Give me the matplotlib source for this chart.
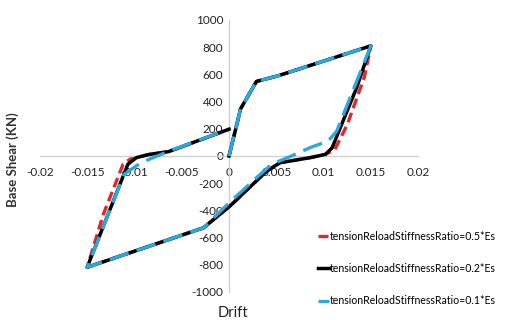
import numpy as np
import matplotlib.pyplot as plt
from matplotlib.ticker import FuncFormatter

plt.rcParams['font.family'] = ['Lato', 'DejaVu Sans']

# drift / base shear
drift_05 = [0.0, 0.001, 0.0012, 0.0029, 0.0052, 0.015, 0.0143, 0.0125, 0.0112, 0.0102,
            0.0086, 0.0054, 0.004, 0.0001, -0.0027, -0.015, -0.0133, -0.0112, -0.0104,
            -0.0098, -0.0084, -0.0064, 0.0]
shear_05 = [0, 282, 344, 548, 590, 810, 577, 230, 49, 12,
            -12, -49, -110, -368, -528, -818, -430, -60, -20,
            -12, 12, 32, 197]

drift_02 = [0.0, 0.001, 0.0012, 0.0029, 0.0052, 0.015, 0.0135, 0.0109, 0.0102,
            0.0086, 0.0054, 0.004, 0.0001, -0.0027, -0.015, -0.0107, -0.0098,
            -0.0084, -0.0064, 0.0]
shear_02 = [0, 282, 344, 548, 590, 810, 503, 60, 12,
            -12, -49, -110, -368, -528, -818, -61, -12,
            12, 32, 197]

drift_01 = [0.0, 0.001, 0.0012, 0.0029, 0.0052, 0.015, 0.0114, 0.0105, 0.0086,
            0.0066, 0.0045, 0.0033, 0.0, -0.0027, -0.015, -0.0111, -0.0093,
            -0.0063, -0.001]
shear_01 = [0, 282, 344, 548, 590, 810, 184, 111, 62,
            0, -61, -135, -345, -528, -818, -135, -49,
            37, 172]

labels = ['tensionReloadStiffnessRatio=0.5*Es',
          'tensionReloadStiffnessRatio=0.2*Es',
          'tensionReloadStiffnessRatio=0.1*Es']

fig = plt.figure(figsize=(5.05, 3.2), dpi=100)
ax = fig.add_axes([0.079, 0.0875, 0.749, 0.85])

ax.plot(drift_05, shear_05, color='#e8262a', lw=2.4, ls=(0, (3, 1.5)), label=labels[0], zorder=2)
ax.plot(drift_02, shear_02, color='black', lw=2.5, label=labels[1], zorder=3)
ax.plot(drift_01, shear_01, color='#2aa9df', lw=2.4, ls=(0, (6, 2.5)), label=labels[2], zorder=4)

ax.set_xlim(-0.02, 0.02)
ax.set_ylim(-1000, 1000)
ax.set_xticks(np.arange(-0.02, 0.0201, 0.005))
ax.set_yticks(np.arange(-1000, 1001, 200))
ax.xaxis.set_major_formatter(FuncFormatter(lambda v, p: '0' if abs(v) < 1e-9 else ('%.3f' % v).rstrip('0')))
ax.yaxis.set_major_formatter(FuncFormatter(lambda v, p: '%d' % v))

for s in ['top', 'right']:
    ax.spines[s].set_visible(False)
for s in ['left', 'bottom']:
    ax.spines[s].set_position(('data', 0))
    ax.spines[s].set_color('#d0d0d0')
    ax.spines[s].set_linewidth(1)
ax.tick_params(length=0, labelsize=8.5, colors='#222222')
ax.tick_params(axis='x', pad=8)
ax.tick_params(axis='y', pad=4)

fig.text(0.025, 0.5, 'Base Shear (KN)', rotation=90, fontsize=9.5, fontweight='bold',
         va='center', ha='center', color='#333333')
fig.text(0.462, 0.0, 'Drift', fontsize=10.5, ha='center', va='bottom', color='#222222')

fig.legend(loc='lower left', bbox_to_anchor=(0.615, 0.02), frameon=False, fontsize=7.6,
           handlelength=1.0, handletextpad=0.1, labelspacing=2.0, borderaxespad=0.3)

fig.savefig('out.png', dpi=100)
